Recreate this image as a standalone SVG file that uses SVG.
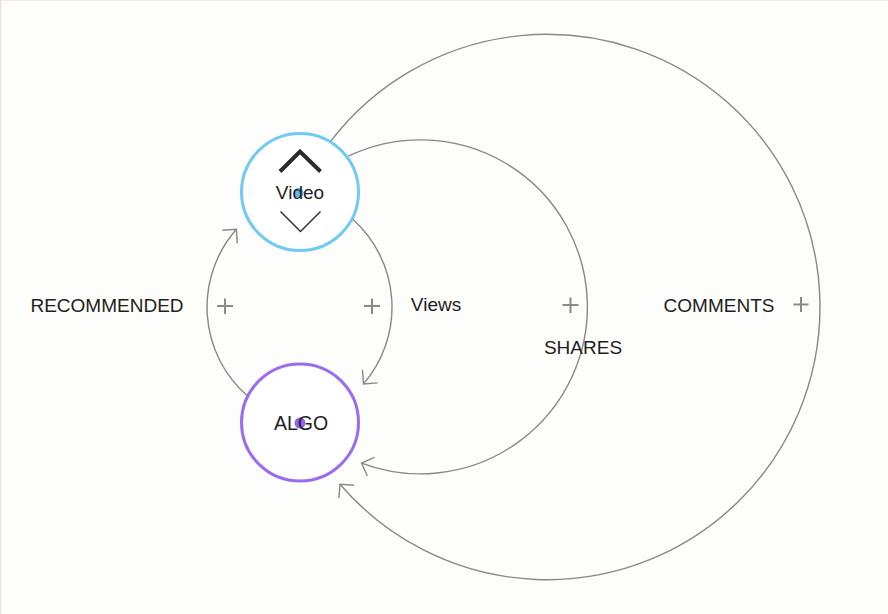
<svg xmlns="http://www.w3.org/2000/svg" width="888" height="614" viewBox="0 0 888 614">
<style>
.edge{fill:none;stroke:#888;stroke-width:1.4;marker-end:url(#arr)}
.plus{stroke:#8a8a8a;stroke-width:2;fill:none}
.lbl{font-family:"Liberation Sans",Arial,sans-serif;font-size:19px;fill:#1e1e1e;text-anchor:middle}
.node{fill:#fff;stroke-width:3}
</style>
<defs>
<marker id="arr" markerUnits="userSpaceOnUse" markerWidth="30" markerHeight="30" refX="0" refY="0" viewBox="-15 -15 30 30" orient="auto" overflow="visible">
<path d="M -10 -10 L 0 0 L -10 10" fill="none" stroke="#888" stroke-width="1.4"/>
</marker>
</defs>
<rect width="888" height="614" fill="#fdfdfb"/>
<line x1="0" y1="0.5" x2="888" y2="0.5" stroke="#efebe5" stroke-width="1"/>
<line x1="0.5" y1="0" x2="0.5" y2="614" stroke="#f7dccb" stroke-width="1"/>
<g id="connectors">
<path id="e-comments" class="edge" d="M 330.6 141.4 A 272.7 272.7 0 1 1 340.0 484.2"/>
<path id="e-shares" class="edge" d="M 348.5 156.1 A 167 167 0 1 1 361.5 463.1"/>
<path id="e-views" class="edge" d="M 352.5 219.0 A 117.9 117.9 0 0 1 363.5 383.9"/>
<path id="e-recommended" class="edge" d="M 247.3 395.8 A 117.8 117.8 0 0 1 236.4 229.3"/>
<path class="plus" d="M 793.5 304.5 H 808.5 M 801 297 V 312"/>
<path class="plus" d="M 562.5 305 H 578.5 M 570.5 297.5 V 313"/>
<path class="plus" d="M 364 306 H 380 M 372 298.5 V 314"/>
<path class="plus" d="M 217 306 H 233 M 225 298.5 V 314"/>
<text class="lbl" x="719" y="312">COMMENTS</text>
<text class="lbl" x="583" y="354">SHARES</text>
<text class="lbl" x="436" y="310.5">Views</text>
<text class="lbl" x="107" y="312">RECOMMENDED</text>
</g>
<g id="node-video">
<circle class="node" cx="300" cy="192" r="58.5" stroke="#72caf3"/>
<circle cx="298.5" cy="193" r="5" fill="#5fb9ee"/>
<text class="lbl" x="300" y="198.5">Video</text>
<path d="M 280 171.5 L 300 151.5 L 320.5 171.5" fill="none" stroke="#2b2b2b" stroke-width="4"/>
<path d="M 280.5 211.5 L 300.5 231.5 L 320.5 211.5" fill="none" stroke="#333" stroke-width="1.5"/>
</g>
<g id="node-algo">
<circle class="node" cx="300" cy="422.5" r="58.5" stroke="#9a6cee"/>
<circle cx="300" cy="423" r="5.5" fill="#9563ea"/>
<text class="lbl" x="301" y="429.5" style="font-size:19.5px">ALGO</text>
</g>
</svg>
